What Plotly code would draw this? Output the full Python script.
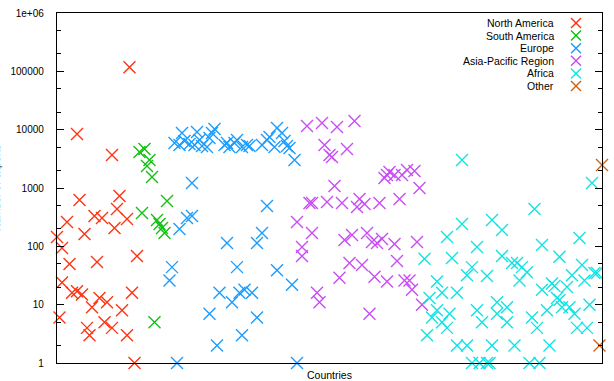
import plotly.graph_objects as go

# Country index (x) and number of experts (y) for each region
na_x = [0, 1, 2, 2, 4, 5, 6, 8, 8, 9, 10, 11, 12, 13, 14, 15, 16, 17, 18, 19, 20, 22, 22, 23, 24, 25, 26, 28, 28, 29, 30, 31, 32]
na_y = [145, 6, 94, 24, 261, 50, 16, 17, 8430, 623, 15, 163, 4, 3, 9, 331, 54, 13, 306, 5, 11, 4, 3680, 206, 436, 729, 8, 294, 3, 118000, 16, 1, 68]

sa_x = [33, 34, 35, 36, 37, 38, 39, 40, 41, 42, 43, 44]
sa_y = [4140, 373, 4660, 2380, 3020, 1545, 5, 283, 241, 206, 169, 598]

eu_x = [47, 49, 50, 51, 53, 55, 56, 57, 58, 60, 61, 62, 63, 67, 68, 69, 71, 72, 74, 76, 77, 82, 84, 85, 87, 88, 90, 91, 92, 93, 95,
        45, 46, 48, 49, 52, 54, 54, 61, 64, 65, 68, 70, 72, 73, 74, 75, 78, 80, 80, 82, 84, 88, 94, 96]
eu_y = [5910, 5460, 8770, 6390, 5680, 5460, 9120, 6650, 5250, 5040, 7200, 8770, 10260, 5460, 5910, 5040, 5910, 6650, 5040, 5460, 5250, 5460, 6650, 7490, 5040, 10690, 8770, 6390, 5250, 4850, 3020,
        26, 44, 1, 198, 306, 1218, 331, 7, 2, 16, 114, 11, 44, 16, 3, 18, 16, 114, 6, 169, 491, 39, 22, 1]

ap_x = [96, 98, 98, 100, 101, 102, 102, 104, 105, 106, 107, 108, 109, 110, 111, 112, 113, 114, 115, 116, 117, 118, 119, 120, 121, 122,
        123, 124, 125, 126, 127, 128, 129, 130, 131, 132, 132, 133, 135, 135, 136, 137, 138, 139, 140, 141, 142, 143, 144, 145, 146]
ap_y = [261, 68, 97, 11560, 553, 553, 169, 16, 11, 13010, 5460, 575, 3680, 3400, 1082, 11120, 29, 553, 128, 4660, 52, 156, 14090, 472, 648, 48,
        532, 169, 7, 119, 30, 114, 553, 134, 1484, 1671, 25, 1880, 1671, 110, 56, 648, 1671, 26, 2036, 26, 18, 1955, 119, 1000, 10]

af_x = [147, 148, 149, 150, 152, 152, 154, 154, 156, 156, 157, 158, 160, 160, 162, 162, 164, 164, 166, 166, 168, 168, 169, 170, 172, 172,
        173, 174, 174, 176, 176, 178, 178, 180, 180, 182, 183, 184, 185, 186, 188, 189, 190, 191, 192, 193, 194, 194, 196, 197, 198, 199,
        200, 201, 201, 202, 204, 205, 206, 207, 208, 209, 210, 211, 212, 213, 214, 215, 216]
af_y = [61, 3, 13, 6, 8, 25, 16, 5, 4, 145, 7, 63, 2, 16, 241, 3020, 2, 32, 44, 1, 8, 97, 1, 5, 31, 1,
        1, 283, 2, 11, 7, 191, 68, 5, 9, 52, 2, 52, 26, 44, 36, 1, 6, 436, 4, 1, 105, 18, 8, 2, 23, 21,
        13, 66, 12, 9, 20, 9, 32, 7, 4, 139, 48, 26, 4, 10, 1218, 35, 35]

ot_x = [218, 217]
ot_y = [2480, 2]

series = [
    ("North America", na_x, na_y, "#ff3311"),
    ("South America", sa_x, sa_y, "#11c011"),
    ("Europe", eu_x, eu_y, "#1a9cff"),
    ("Asia-Pacific Region", ap_x, ap_y, "#c84cf5"),
    ("Africa", af_x, af_y, "#11e3e3"),
    ("Other", ot_x, ot_y, "#d0620f"),
]

y_tickvals = [1, 10, 100, 1000, 10000, 100000, 1000000]
y_ticktext = ["1", "10", "100", "1000", "10000", "100000", "1e+06"]

FONT = "Liberation Sans, Arial, Helvetica, sans-serif"

fig = go.Figure()
for name, xs, ys, col in series:
    fig.add_trace(go.Scatter(
        x=xs, y=ys, mode="markers", name=name, showlegend=False,
        cliponaxis=False,
        marker=dict(symbol="x-thin", size=12, color=col,
                    line=dict(color=col, width=1.4)),
    ))

# gnuplot-style key: right-aligned text with the marker on its right
L, R, T, B = 57, 12, 13, 18
W, H = 614 - L - R, 381 - T - B
key_text_x = (556 - L) / W
key_mark_x = (576 - L) / W
for i, (name, xs, ys, col) in enumerate(series):
    py = 23 + 12.6 * i
    yp = (381 - B - py) / H
    fig.add_annotation(x=key_text_x, y=yp, xref="paper", yref="paper",
                       text=name, showarrow=False, xanchor="right", yanchor="middle",
                       font=dict(size=10.5, color="black", family=FONT))
    for a, b in ((-5, 5), (5, -5)):
        fig.add_shape(type="line", xref="paper", yref="paper",
                      xsizemode="pixel", ysizemode="pixel",
                      xanchor=key_mark_x, yanchor=yp,
                      x0=-5, x1=5, y0=a, y1=b,
                      line=dict(color=col, width=1.4))

# y-axis title, mostly cut off at the left edge (as in the original)
fig.add_annotation(x=(4 - L) / W, y=0.5, xref="paper", yref="paper",
                   text="Number of experts", textangle=-90, showarrow=False,
                   xanchor="right", yanchor="middle",
                   font=dict(size=10.5, color="black", family=FONT))

# x-axis title
fig.add_annotation(x=0.5, y=-(375 - (381 - B)) / H, xref="paper", yref="paper",
                   text="Countries", showarrow=False, xanchor="center", yanchor="middle",
                   font=dict(size=10.5, color="black", family=FONT))

fig.update_layout(
    width=614, height=381,
    margin=dict(l=L, r=R, t=T, b=B, autoexpand=False),
    paper_bgcolor="white", plot_bgcolor="white",
    font=dict(family=FONT, size=10, color="black"),
    xaxis=dict(range=[0, 218], showgrid=False, zeroline=False,
               showticklabels=False, ticks="", automargin=False,
               showline=True, linecolor="black", linewidth=1.3, mirror=True),
    yaxis=dict(type="log", range=[0, 6], showgrid=False, zeroline=False,
               tickvals=y_tickvals, ticktext=y_ticktext, automargin=False,
               ticks="inside", ticklen=7, tickwidth=1, tickcolor="black",
               ticklabelstandoff=10,
               minor=dict(ticks="inside", ticklen=4, dtick="D2", tickcolor="black", tickwidth=1),
               showline=True, linecolor="black", linewidth=1.3, mirror="allticks",
               tickfont=dict(size=10)),
)

fig.write_html("out.html")
